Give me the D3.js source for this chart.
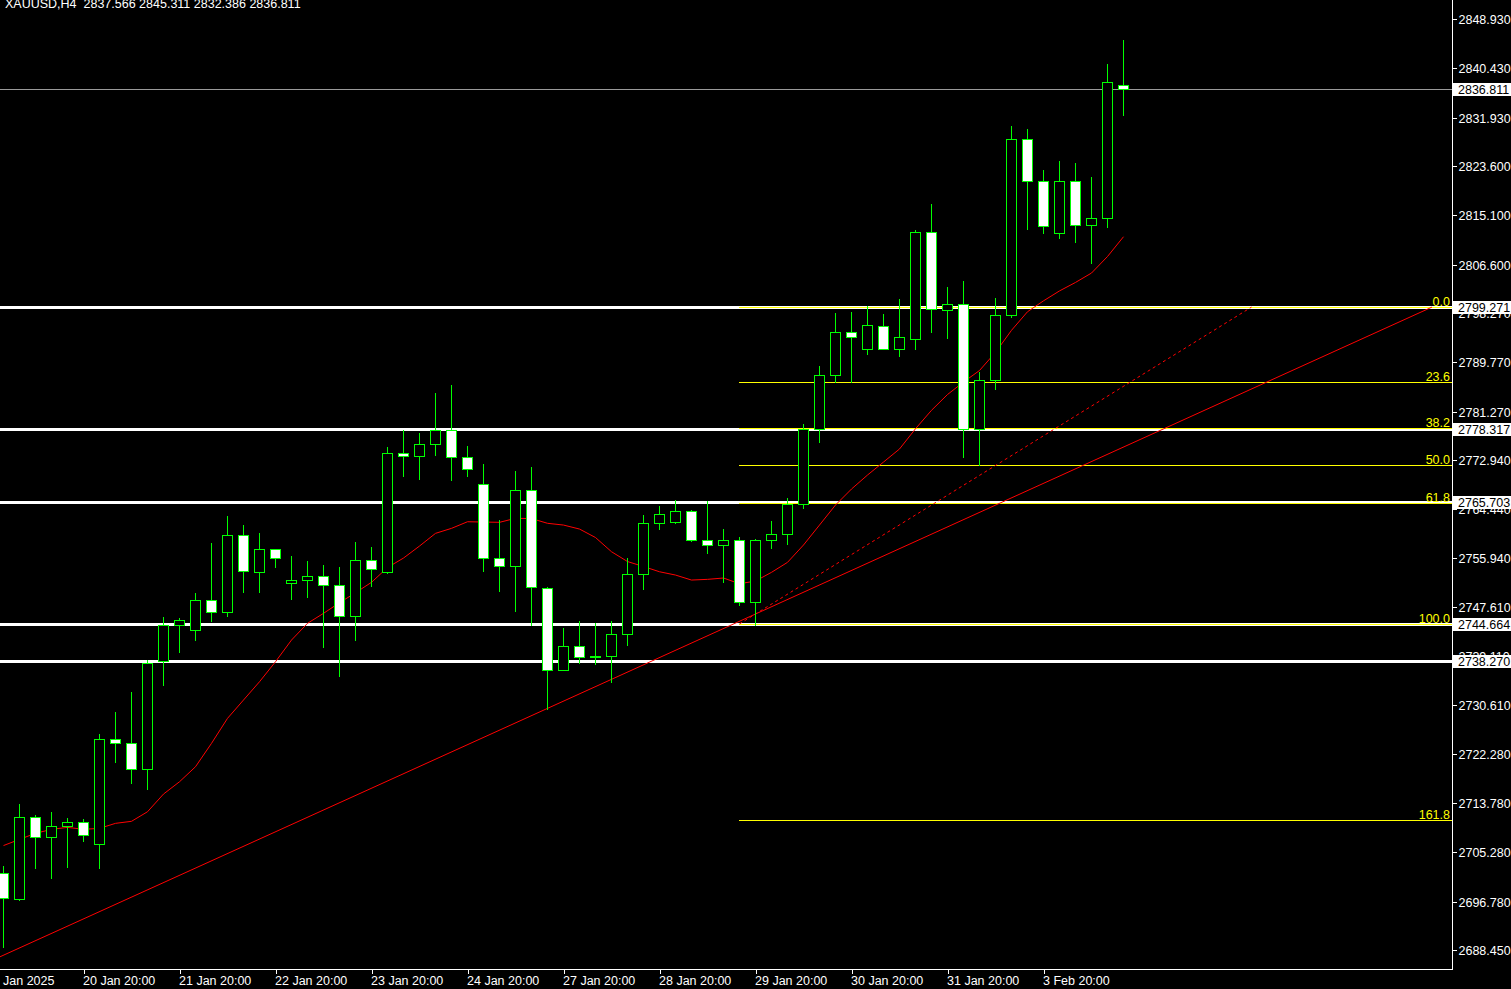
<!DOCTYPE html>
<html><head><meta charset="utf-8">
<script src="https://cdn.jsdelivr.net/npm/d3@7"></script>
<style>html,body{margin:0;padding:0;background:#000;overflow:hidden}</style>
</head><body>
<svg id="c" width="1511" height="989"></svg>
<script>
// ---------- DATA ----------
const titleText = "XAUUSD,H4  2837.566 2845.311 2832.386 2836.811";
const opens  = [2701.8,2697.2,2711.3,2708.0,2709.8,2710.6,2706.7,2724.8,2724.1,2719.6,2738.2,2744.4,2743.6,2748.7,2746.7,2759.9,2753.6,2757.5,2751.7,2752.3,2753.0,2751.3,2746.1,2755.6,2753.6,2774.1,2773.6,2775.6,2778.0,2773.4,2768.7,2756.0,2754.6,2767.7,2750.8,2736.8,2740.8,2738.9,2739.2,2742.9,2753.2,2762.0,2762.3,2764.1,2759.1,2758.2,2759.2,2748.4,2759.1,2760.1,2765.4,2778.2,2787.6,2794.9,2792.1,2796.0,2792.1,2793.7,2812.2,2798.7,2799.8,2778.2,2786.7,2797.9,2828.2,2821.0,2812.0,2821.0,2813.4,2814.6,2837.566];
const highs  = [2702.9,2713.7,2711.7,2712.2,2711.2,2711.0,2725.6,2729.5,2732.9,2738.4,2745.8,2745.7,2750.0,2758.6,2763.3,2761.7,2760.3,2757.6,2756.4,2755.5,2754.8,2754.5,2758.8,2758.0,2775.1,2778.1,2777.5,2784.5,2785.8,2775.3,2772.3,2762.5,2771.0,2771.7,2751.1,2743.9,2745.1,2744.8,2745.1,2756.1,2763.4,2764.9,2766.0,2764.3,2765.8,2761.0,2759.6,2759.3,2762.4,2766.3,2779.1,2789.1,2798.2,2798.4,2799.4,2798.0,2800.7,2812.6,2817.0,2802.7,2803.8,2788.1,2800.8,2830.4,2830.0,2822.9,2824.5,2824.1,2821.7,2841.2,2845.311];
const lows   = [2689.0,2697.0,2702.5,2700.9,2702.8,2707.3,2702.5,2720.9,2717.3,2716.2,2734.2,2739.8,2741.8,2745.2,2746.1,2750.2,2750.2,2754.5,2749.0,2749.3,2740.7,2735.6,2741.8,2751.2,2753.4,2770.2,2769.7,2773.7,2769.5,2770.2,2753.8,2750.4,2746.9,2744.5,2730.0,2736.7,2737.9,2737.7,2734.6,2741.1,2750.7,2761.1,2762.1,2759.0,2756.9,2751.9,2748.0,2744.5,2757.8,2758.5,2764.7,2776.1,2786.3,2786.3,2791.1,2792.0,2790.9,2792.1,2795.0,2794.0,2773.5,2772.0,2785.1,2797.5,2812.8,2812.1,2811.2,2810.5,2806.9,2813.1,2832.386];
const closes = [2697.4,2711.3,2708.0,2709.8,2710.6,2708.2,2724.8,2724.1,2719.6,2738.0,2744.4,2745.3,2748.7,2746.7,2759.9,2753.7,2757.5,2756.1,2752.3,2753.0,2751.3,2746.1,2755.6,2754.2,2774.1,2773.6,2775.6,2778.0,2773.4,2771.3,2756.0,2754.6,2767.7,2751.1,2736.8,2740.8,2738.9,2739.2,2742.9,2753.2,2762.0,2763.6,2764.1,2759.1,2758.2,2759.2,2748.4,2759.1,2760.1,2765.3,2778.2,2787.5,2794.9,2794.1,2796.1,2792.1,2794.1,2812.2,2798.9,2799.8,2778.2,2786.7,2797.9,2828.2,2821.0,2813.2,2821.0,2813.4,2814.6,2838.0,2836.811];
const maValues = [2706.45,2707.52,2708.56,2709.25,2709.59,2709.25,2709.42,2710.28,2710.63,2712.28,2715.33,2717.45,2720.04,2724.07,2728.38,2731.54,2734.69,2738.14,2741.88,2744.76,2746.48,2748.31,2750.03,2751.83,2754.38,2756.01,2758.08,2760.27,2761.13,2762.27,2762.22,2762.17,2762.86,2762.82,2762.0,2761.7,2761.01,2759.55,2757.1,2755.41,2754.55,2753.65,2753.08,2752.22,2752.34,2752.57,2751.58,2752.05,2753.55,2755.27,2758.26,2761.7,2765.15,2767.91,2770.32,2772.56,2774.81,2778.3,2781.48,2784.2,2786.35,2788.34,2791.47,2795.27,2798.47,2800.35,2802.06,2803.52,2805.14,2807.99,2811.4];
const yTickValues = [2848.930,2840.430,2831.930,2823.600,2815.100,2806.600,2798.270,2789.770,2781.270,2772.940,2764.440,2755.940,2747.610,2739.110,2730.610,2722.280,2713.780,2705.280,2696.780,2688.450];
const xTickIndex = [5,11,17,23,29,35,41,47,53,59,65];
const xTickLabels = ["20 Jan 20:00","21 Jan 20:00","22 Jan 20:00","23 Jan 20:00","24 Jan 20:00","27 Jan 20:00","28 Jan 20:00","29 Jan 20:00","30 Jan 20:00","31 Jan 20:00","3 Feb 20:00"];
const firstXLabel = "Jan 2025";
const hLinePrices = [2799.271, 2778.317, 2765.703, 2744.664, 2738.270];
const bidPrice = 2836.811;
const fibLevels = [0, 23.6, 38.2, 50.0, 61.8, 100.0, 161.8];
const fibLabels = ["0.0","23.6","38.2","50.0","61.8","100.0","161.8"];
const fibAnchors = [{i:46, p:2744.664}, {i:78, p:2799.271}];   // 100 -> 0
const trendAnchors = [{i:-0.22, p:2687.28}, {i:89.28, p:2799.27}];

// ---------- LAYOUT ----------
const W = 1511, H = 989, plotR = 1452, plotB = 969;
const FONT = "'Liberation Sans', Arial, sans-serif";
const FS = "12.5px ";
const svg = d3.select("#c");
svg.append("rect").attr("width", W).attr("height", H).attr("fill", "#000");

const x = d3.scaleLinear().domain([0, 70]).range([3.5, 1123.5]);
const y = d3.scaleLinear().domain([2688.45, 2848.93]).range([950, 19]);
const py = v => Math.round(y(v)) + 0.5;

svg.append("defs").append("clipPath").attr("id", "plot")
  .append("rect").attr("x", 0).attr("y", 0).attr("width", plotR).attr("height", plotB);
const g = svg.append("g").attr("clip-path", "url(#plot)");

// bid line
g.append("line").attr("x1", 0).attr("x2", plotR).attr("y1", py(bidPrice)).attr("y2", py(bidPrice))
  .attr("stroke", "#9a9a9a").attr("stroke-width", 1).attr("shape-rendering", "crispEdges");

// white horizontal levels
g.selectAll("line.hl").data(hLinePrices).join("line").attr("class", "hl")
  .attr("x1", 0).attr("x2", plotR).attr("y1", d => py(d)).attr("y2", d => py(d))
  .attr("stroke", "#fff").attr("stroke-width", 3).attr("shape-rendering", "crispEdges");

// fibonacci
const p100 = fibAnchors[0].p, p0 = fibAnchors[1].p;
const fibPrice = L => p0 - (p0 - p100) * L / 100;
g.selectAll("line.fib").data(fibLevels).join("line").attr("class", "fib")
  .attr("x1", x(fibAnchors[0].i) - 0.5).attr("x2", plotR)
  .attr("y1", d => py(fibPrice(d))).attr("y2", d => py(fibPrice(d)))
  .attr("stroke", "#ffff00").attr("stroke-width", 1).attr("shape-rendering", "crispEdges");
g.append("line")
  .attr("x1", x(fibAnchors[0].i)).attr("y1", y(fibAnchors[0].p))
  .attr("x2", x(fibAnchors[1].i)).attr("y2", y(fibAnchors[1].p))
  .attr("stroke", "#ff0000").attr("stroke-width", 1).attr("stroke-dasharray", "3,3");
g.selectAll("text.fibl").data(fibLevels).join("text").attr("class", "fibl")
  .attr("x", 1450).attr("y", d => py(fibPrice(d)) - 2)
  .attr("text-anchor", "end").attr("fill", "#ffff00")
  .style("font", FS + FONT).text((d, k) => fibLabels[k]);

// trend line
const tl = d3.line().x(d => x(d.i)).y(d => y(d.p));
g.append("path").attr("d", tl(trendAnchors)).attr("fill", "none")
  .attr("stroke", "#ff0000").attr("stroke-width", 1);

// moving average
const maLine = d3.line().x((d, k) => x(k)).y(d => y(d));
g.append("path").attr("d", maLine(maValues)).attr("fill", "none")
  .attr("stroke", "#ff0000").attr("stroke-width", 1);

// candles
const candles = opens.map((o, k) => ({k, o, h: highs[k], l: lows[k], c: closes[k]}));
const cg = g.append("g").attr("shape-rendering", "crispEdges");
cg.selectAll("line.wick").data(candles).join("line").attr("class", "wick")
  .attr("x1", d => x(d.k)).attr("x2", d => x(d.k))
  .attr("y1", d => Math.round(y(d.h))).attr("y2", d => Math.round(y(d.l)) + 1)
  .attr("stroke", "#00ff00").attr("stroke-width", 1);
cg.selectAll("path.body").data(candles).join("path").attr("class", "body")
  .attr("d", d => {
    const t = Math.round(y(Math.max(d.o, d.c))) + 0.5;
    let b = Math.round(y(Math.min(d.o, d.c))) + 0.5;
    if (b - t < 1) b = t + 1;
    const l = x(d.k) - 5;
    return `M${l},${t}H${l + 10}V${b}H${l}Z`;
  })
  .attr("fill", d => d.c >= d.o ? "#000" : "#fff")
  .attr("stroke", "#00ff00").attr("stroke-width", 1);

// ---------- AXES ----------
const yAxis = d3.axisRight(y).tickValues(yTickValues).tickFormat(d3.format(".3f")).tickSize(4).tickSizeOuter(0);
const ya = svg.append("g").attr("transform", `translate(${plotR + 0.5},0)`).call(yAxis);
ya.select(".domain").remove();
ya.selectAll("line").attr("stroke", "#fff").attr("shape-rendering", "crispEdges");
ya.selectAll("text").attr("fill", "#fff").attr("x", 6).attr("dy", "0.36em")
  .style("font", FS + FONT);

const xAxis = d3.axisBottom(x).tickValues(xTickIndex).tickFormat((d, k) => xTickLabels[k]).tickSize(4).tickSizeOuter(0);
const xa = svg.append("g").attr("transform", `translate(0,${plotB + 0.5})`).call(xAxis);
xa.select(".domain").remove();
xa.selectAll("line").attr("stroke", "#fff").attr("shape-rendering", "crispEdges");
xa.selectAll("text").attr("fill", "#fff").attr("text-anchor", "start").attr("x", -1).attr("y", 15).attr("dy", 0)
  .style("font", FS + FONT);
svg.append("text").attr("x", 3).attr("y", plotB + 15.5).attr("fill", "#fff")
  .style("font", FS + FONT).text(firstXLabel);

// frame
svg.append("line").attr("x1", plotR + 0.5).attr("x2", plotR + 0.5).attr("y1", 0).attr("y2", plotB + 1)
  .attr("stroke", "#fff").attr("shape-rendering", "crispEdges");
svg.append("line").attr("x1", 0).attr("x2", plotR + 1).attr("y1", plotB + 0.5).attr("y2", plotB + 0.5)
  .attr("stroke", "#fff").attr("shape-rendering", "crispEdges");

// price label boxes
const boxes = hLinePrices.concat([bidPrice]);
const bx = svg.append("g");
bx.selectAll("rect").data(boxes).join("rect")
  .attr("x", plotR + 1).attr("width", W - plotR - 1)
  .attr("y", d => Math.round(y(d)) - 6).attr("height", 13)
  .attr("fill", "#fff").attr("shape-rendering", "crispEdges");
bx.selectAll("text").data(boxes).join("text")
  .attr("x", plotR + 6).attr("y", d => Math.round(y(d)) + 5)
  .attr("fill", "#000").style("font", FS + FONT).text(d => d3.format(".3f")(d));

// title
svg.append("text").attr("x", 5).attr("y", 8).attr("fill", "#fff")
  .style("font", FS + FONT).style("white-space", "pre").text(titleText);
</script>
</body></html>
